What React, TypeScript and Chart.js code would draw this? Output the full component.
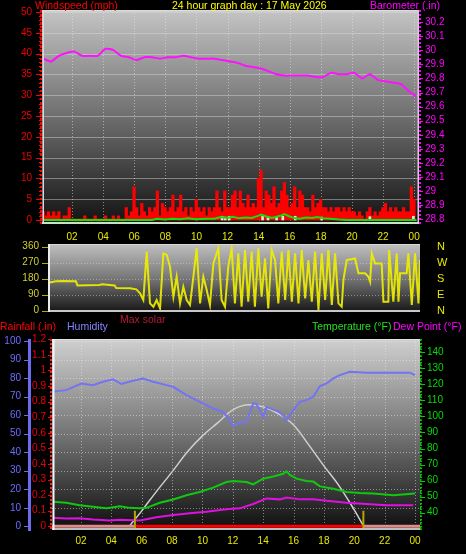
import React, { useEffect, useRef } from 'react';
import { Chart, registerables } from 'chart.js';

Chart.register(...registerables);

const FONT = 'Liberation Sans, Arial, Helvetica, sans-serif';

// ---------- time axis ----------
const hourTicks = [2, 4, 6, 8, 10, 12, 14, 16, 18, 20, 22, 24];
const hourLabels = ['02', '04', '06', '08', '10', '12', '14', '16', '18', '20', '22', '00'];

// ---------- panel 1 : wind + barometer ----------
const windTicks = [0, 5, 10, 15, 20, 25, 30, 35, 40, 45, 50];
const baroTicks = [28.8, 28.9, 29.0, 29.1, 29.2, 29.3, 29.4, 29.5, 29.6, 29.7, 29.8, 29.9, 30.0, 30.1, 30.2];
const baroLabels = ['28.8', '28.9', '29', '29.1', '29.2', '29.3', '29.4', '29.5', '29.6', '29.7', '29.8', '29.9', '30', '30.1', '30.2'];
const panel1Shift = 0.15;
const baroStepHours = 0.5;
const baroValues = [
  29.94, 29.92, 29.96, 29.98, 29.99, 29.96, 29.96, 29.96, 30.01, 30.0,
  29.96, 29.95, 29.93, 29.95, 29.95, 29.94, 29.95, 29.95, 29.96, 29.95,
  29.94, 29.94, 29.94, 29.93, 29.92, 29.91, 29.89, 29.88, 29.87, 29.85,
  29.83, 29.82, 29.82, 29.82, 29.82, 29.81, 29.81, 29.84, 29.83, 29.83,
  29.84, 29.8, 29.83, 29.79, 29.78, 29.77, 29.76, 29.71, 29.67,
];
const windStepHours = 1 / 6;
const windGust = [
  2, 1, 2, 1, 2, 1, 2, 0, 1, 1, 3, 0, 0, 0, 0, 0, 1, 0, 0, 0, 1, 0, 0, 0,
  1, 0, 0, 1, 0, 1, 0, 0, 3, 1, 2, 8, 3, 1, 4, 2, 1, 3, 2, 3, 7, 1, 4, 3,
  2, 3, 6, 2, 3, 6, 2, 3, 1, 3, 2, 5, 3, 2, 3, 1, 3, 2, 3, 7, 3, 2, 7, 3,
  3, 6, 7, 3, 7, 4, 3, 6, 3, 4, 3, 10, 12, 3, 7, 6, 4, 8, 3, 4, 7, 9, 6, 3,
  4, 8, 3, 7, 6, 3, 3, 2, 6, 3, 4, 5, 3, 3, 2, 3, 2, 3, 3, 2, 3, 2, 3, 2,
  2, 1, 2, 1, 0, 2, 3, 1, 2, 1, 2, 3, 4, 2, 3, 2, 3, 2, 2, 3, 2, 2, 8, 5,
];
const windAvgHours = [0, 7.0, 7.3, 7.8, 8.3, 8.8, 9.3, 9.8, 10.5, 11.0, 11.4, 11.8, 12.2, 12.6, 13.0, 13.4, 13.8, 14.0, 14.3, 14.7, 15.0, 15.3, 15.5, 15.8, 16.2, 16.5, 16.9, 17.3, 17.6, 18.0, 18.4, 19.0, 19.5, 24];
const windAvgValues = [0, 0, 0.3, 0.1, 0.3, 0.2, 0.4, 0.2, 0.3, 0.3, 0.7, 0.5, 0.8, 0.4, 0.6, 0.5, 1.0, 1.3, 0.9, 0.5, 0.8, 1.1, 1.4, 0.9, 0.4, 0.3, 0.6, 0.5, 0.7, 0.4, 0.3, 0.1, 0, 0];
const calmHours = [11.5, 11.7, 11.95, 14.1, 14.45, 15.0, 15.4, 16.2, 17.9, 21.0, 23.8];
const calmValues = [0.9, 0.7, 0.9, 0.9, 0.8, 0.7, 0.9, 0.9, 0.7, 0.8, 0.9];

// ---------- panel 2 : wind direction ----------
const dirTicks = [0, 90, 180, 270, 360];
const dirLabels = ['0', '90', '180', '270', '360'];
const compassLabels = ['N', 'E', 'S', 'W', 'N'];
const dirHours = [
  0.05, 0.5, 1.0, 1.8, 1.9, 2.5, 3.3, 3.5, 4.3, 4.4,
  5.3, 5.7, 5.94, 6.15, 6.37, 6.58, 6.8, 7.01, 7.23, 7.44,
  7.66, 7.87, 8.09, 8.3, 8.52, 8.73, 8.95, 9.16, 9.38, 9.59,
  9.81, 10.02, 10.24, 10.45, 10.67, 10.99, 11.2, 11.42, 11.63, 11.85,
  12.06, 12.28, 12.49, 12.71, 12.92, 13.14, 13.35, 13.57, 13.78, 14.0,
  14.21, 14.43, 14.65, 14.86, 15.08, 15.3, 15.51, 15.73, 15.94, 16.16,
  16.37, 16.59, 16.8, 17.02, 17.23, 17.45, 17.66, 17.88, 18.09, 18.31,
  18.52, 18.74, 18.95, 19.06, 19.27, 19.81, 20.03, 20.46, 20.67, 20.78,
  20.89, 21.1, 21.53, 21.64, 21.96, 22.01, 22.28, 22.5, 22.61, 22.71,
  23.14, 23.25, 23.47, 23.68, 23.9, 24.0,
];
const dirValues = [
  157, 165, 167, 165, 142, 143, 145, 148, 142, 128,
  126, 120, 98, 60, 332, 41, 22, 60, 13, 322,
  313, 248, 79, 191, 41, 135, 60, 32, 191, 351,
  41, 191, 116, 32, 266, 351, 60, 22, 248, 351,
  41, 322, 22, 341, 51, 332, 22, 351, 79, 294,
  13, 341, 285, 41, 332, 60, 341, 51, 322, 41,
  341, 69, 285, 51, 332, 4, 322, 60, 341, 32,
  322, 41, 22, 173, 285, 294, 210, 210, 191, 163,
  322, 266, 266, 51, 51, 341, 51, 322, 51, 210,
  210, 322, 32, 322, 41, 285,
];

// ---------- panel 3 : rain, humidity, temperature, dew point, solar ----------
const humTicks = [0, 10, 20, 30, 40, 50, 60, 70, 80, 90, 100];
const rainTicks = [0, 0.1, 0.2, 0.3, 0.4, 0.5, 0.6, 0.7, 0.8, 0.9, 1.0, 1.1, 1.2];
const rainLabels = ['0', '0.1', '0.2', '0.3', '0.4', '0.5', '0.6', '0.7', '0.8', '0.9', '1', '1.1', '1.2'];
const tempTicks = [40, 50, 60, 70, 80, 90, 100, 110, 120, 130, 140];
const humHours = [0.04, 1.03, 2.02, 2.79, 3.45, 4.11, 4.66, 5.43, 6.09, 6.75, 7.63, 8.07, 8.95, 9.82, 10.7, 11.36, 11.8, 12.02, 12.46, 12.9, 13.34, 13.56, 14.0, 14.22, 14.66, 15.1, 15.54, 15.98, 16.42, 16.86, 17.3, 17.74, 18.18, 18.62, 19.05, 19.71, 20.81, 21.91, 23.67, 24.0];
const humValues = [72.6, 73.5, 77.1, 76.2, 78.0, 79.3, 76.8, 78.6, 79.8, 78.0, 76.2, 75.3, 70.8, 67.2, 63.6, 61.8, 57.3, 54.0, 55.9, 56.4, 66.3, 66.0, 59.0, 64.5, 63.0, 61.8, 57.3, 62.7, 67.2, 68.1, 69.9, 75.7, 77.1, 79.8, 81.6, 83.4, 82.9, 82.9, 82.9, 81.6];
const tempHours = [0.15, 1.03, 1.91, 2.79, 3.67, 4.55, 5.21, 5.87, 6.31, 7.19, 8.07, 8.95, 9.82, 10.7, 11.58, 12.02, 12.9, 13.34, 14.0, 14.66, 15.32, 15.54, 15.76, 16.2, 16.86, 17.3, 17.74, 18.62, 19.49, 20.37, 21.25, 22.57, 24.0];
const tempValues = [46.8, 46.2, 44.7, 43.7, 42.7, 44.0, 43.0, 42.7, 43.0, 46.2, 48.2, 50.9, 52.9, 55.6, 59.1, 59.7, 59.1, 57.7, 61.2, 62.6, 64.3, 65.8, 63.5, 61.2, 59.7, 59.4, 56.4, 54.9, 52.9, 52.3, 51.9, 50.9, 51.9];
const dewHours = [0.15, 1.03, 1.91, 2.79, 3.89, 4.55, 5.87, 6.97, 8.07, 9.16, 10.26, 11.58, 12.46, 13.34, 14.22, 15.1, 15.54, 16.42, 17.3, 18.18, 19.49, 20.81, 22.13, 23.89];
const dewValues = [36.9, 36.3, 36.5, 35.7, 35.1, 35.6, 35.1, 37.2, 38.6, 39.6, 40.6, 42.1, 42.7, 45.4, 48.9, 48.3, 49.5, 48.3, 48.3, 47.5, 46.2, 45.4, 44.7, 44.7];
const solarHours = [5.2, 6, 7, 8, 9, 10, 11, 12, 13, 14, 15, 16, 17, 18, 19, 20, 20.6];
const solarValues = [0, 96, 223, 344, 471, 573, 656, 739, 771, 758, 713, 643, 516, 382, 255, 102, 0];
const sunrise = 5.55;
const sunset = 20.6;
const rainHours = [0, sunrise, sunset, 24.4];
const rainValues = [0, 0, 0, 0];

// ---------- helpers ----------
const pts = (hours: number[], values: number[], shift = 0) => hours.map((h, i) => ({ x: h + shift, y: values[i] }));
const stepPts = (values: number[], step: number, shift = 0) => values.map((v, i) => ({ x: i * step + shift, y: v }));
const fixedTicks = (values: number[]) => (scale: any) => {
  scale.ticks = values.map((v) => ({ value: v }));
};
const labelOf = (values: number[], labels: string[]) => (v: number) => {
  const i = values.findIndex((t) => Math.abs(t - v) < 1e-6);
  return i >= 0 ? labels[i] : '';
};
const fixW = (w: number) => (s: any) => {
  s.width = w;
  s.paddingTop = 0;
  s.paddingBottom = 0;
};
const fixH = (h: number) => (s: any) => {
  s.height = h;
  s.paddingLeft = 0;
  s.paddingRight = 0;
};
const tickFont = { family: FONT, size: 10 };

function deco(d: any) {
  return {
    id: 'deco',
    beforeDatasetsDraw(chart: any) {
      const { ctx, chartArea: a } = chart;
      ctx.save();
      const g = ctx.createLinearGradient(0, a.top, 0, a.bottom);
      d.bg.forEach((s: any) => g.addColorStop(s[0], s[1]));
      ctx.fillStyle = g;
      ctx.fillRect(a.left, a.top, a.right - a.left, a.bottom - a.top);
      for (const gr of d.grids) {
        const s = chart.scales[gr.id];
        ctx.strokeStyle = gr.color;
        ctx.lineWidth = gr.width;
        ctx.setLineDash(gr.dash);
        for (const v of gr.values) {
          const p = Math.round(s.getPixelForValue(v)) + 0.5;
          ctx.beginPath();
          if (gr.dir === 'v') {
            if (p < a.left || p > a.right) continue;
            ctx.moveTo(p, a.top);
            ctx.lineTo(p, a.bottom);
          } else {
            ctx.moveTo(a.left, p);
            ctx.lineTo(a.right, p);
          }
          ctx.stroke();
        }
      }
      ctx.restore();
    },
    afterDatasetsDraw(chart: any) {
      const { ctx, chartArea: a } = chart;
      ctx.save();
      ctx.setLineDash([]);
      const f = d.frame;
      const line = (x1: number, y1: number, x2: number, y2: number, c: string, w: number) => {
        ctx.strokeStyle = c;
        ctx.lineWidth = w;
        ctx.beginPath();
        ctx.moveTo(x1, y1);
        ctx.lineTo(x2, y2);
        ctx.stroke();
      };
      if (f.top) line(a.left, a.top + f.top[1] / 2, a.right, a.top + f.top[1] / 2, f.top[0], f.top[1]);
      if (f.right) line(a.right - f.right[1] / 2, a.top, a.right - f.right[1] / 2, a.bottom, f.right[0], f.right[1]);
      if (f.bottom) line(a.left, a.bottom - f.bottom[1] / 2, a.right, a.bottom - f.bottom[1] / 2, f.bottom[0], f.bottom[1]);
      if (f.left) line(a.left + f.left[1] / 2 + (f.leftInset || 0), a.top, a.left + f.left[1] / 2 + (f.leftInset || 0), a.bottom, f.left[0], f.left[1]);
      for (const ax of d.axes) {
        const s = chart.scales[ax.id];
        const left = ax.side === 'left';
        const edge = left ? s.right : s.left;
        const dir = left ? -1 : 1;
        if (ax.border) {
          ctx.setLineDash(ax.border.dash);
          const bx = edge + (dir * ax.border.width) / 2;
          line(bx, a.top, bx, a.bottom, ax.border.color, ax.border.width);
          ctx.setLineDash([]);
        }
        if (ax.minorStep) {
          for (let k = Math.ceil(s.min / ax.minorStep); k * ax.minorStep <= s.max; k++) {
            const y = Math.round(s.getPixelForValue(k * ax.minorStep)) + 0.5;
            line(edge, y, edge + dir * ax.minorLen, y, ax.color, 1);
          }
        }
        for (const v of ax.majors) {
          const y = Math.round(s.getPixelForValue(v)) + 0.5;
          line(edge, y, edge + dir * ax.majorLen, y, ax.color, 1);
        }
      }
      ctx.restore();
    },
  };
}

const hourAxis = (min: number, max: number, height: number, padding: number, show = true) => ({
  type: 'linear',
  position: 'bottom',
  min,
  max,
  offset: false,
  display: show,
  afterBuildTicks: fixedTicks(hourTicks),
  afterFit: fixH(height),
  grid: { display: false, drawTicks: false },
  border: { display: false },
  ticks: {
    callback: labelOf(hourTicks, hourLabels),
    color: '#e8e800',
    font: tickFont,
    padding,
    maxRotation: 0,
    autoSkip: false,
  },
});

const yAxis = (o: any) => ({
  type: 'linear',
  position: o.position,
  weight: o.weight || 0,
  min: o.min,
  max: o.max,
  display: o.display === undefined ? true : o.display,
  afterBuildTicks: fixedTicks(o.ticks),
  afterFit: fixW(o.width),
  grid: { display: false, drawTicks: false },
  border: { display: false },
  ticks: {
    callback: labelOf(o.ticks, o.labels),
    color: o.color,
    font: o.font || tickFont,
    padding: o.padding,
    autoSkip: false,
  },
});

const baseOptions = (padding: any, scales: any) => ({
  animation: false,
  responsive: false,
  devicePixelRatio: 1,
  events: [],
  layout: { padding },
  plugins: { legend: { display: false }, tooltip: { enabled: false } },
  scales,
});

function config1(): any {
  return {
    type: 'line',
    data: {
      datasets: [
        {
          type: 'bar', label: 'Wind gust (mph)', data: stepPts(windGust, windStepHours, panel1Shift), yAxisID: 'wind',
          backgroundColor: '#ff0000', borderWidth: 0, barThickness: 2.6, grouped: false, minBarLength: 2, order: 4,
        },
        {
          type: 'bar', label: 'Calm', data: pts(calmHours, calmValues, panel1Shift), yAxisID: 'wind',
          backgroundColor: '#d6ead6', borderWidth: 0, barThickness: 2, grouped: false, order: 3,
        },
        {
          type: 'line', label: 'Wind average (mph)', data: pts(windAvgHours, windAvgValues, panel1Shift), yAxisID: 'wind',
          borderColor: '#10e010', borderWidth: 2, pointRadius: 0, tension: 0, order: 2,
        },
        {
          type: 'line', label: 'Barometer (.in)', data: stepPts(baroValues, baroStepHours, panel1Shift), yAxisID: 'baro',
          borderColor: '#ff10ff', borderWidth: 2, pointRadius: 0, tension: 0.2, order: 1,
        },
      ],
    },
    options: baseOptions({ top: 10, left: 0, right: 0, bottom: 0 }, {
      x: hourAxis(0.064, 24.31, 20, 7),
      wind: yAxis({ position: 'left', min: -0.96, max: 50.48, ticks: windTicks, labels: windTicks.map(String), color: '#ee0000', width: 42, padding: 10 }),
      baro: yAxis({ position: 'right', min: 28.768, max: 30.285, ticks: baroTicks, labels: baroLabels, color: '#ff00ff', width: 47, padding: 6 }),
    }),
    plugins: [
      deco({
        bg: [[0, '#c4c4c4'], [0.5, '#6e6e6e'], [1, '#121212']],
        grids: [
          { id: 'x', dir: 'v', values: hourTicks, color: 'rgba(235,235,235,0.5)', dash: [1, 2], width: 1 },
          { id: 'wind', dir: 'h', values: windTicks.slice(1), color: 'rgba(220,220,220,0.45)', dash: [], width: 1 },
        ],
        frame: { top: ['#dcdcdc', 1.5], right: ['#d0d0d0', 1.5], bottom: ['#c6e2c6', 2], left: ['#d8d8d8', 1.5], leftInset: 0.5 },
        axes: [
          { id: 'wind', side: 'left', majors: windTicks, minorStep: 1, color: '#ff0000', majorLen: 6, minorLen: 3, border: { color: '#ff0000', width: 2, dash: [2, 2] } },
          { id: 'baro', side: 'right', majors: baroTicks, color: '#ff00ff', majorLen: 4, minorLen: 0, border: { color: '#ff00ff', width: 2, dash: [2, 2] } },
        ],
      }),
    ],
  };
}

function config2(): any {
  return {
    type: 'line',
    data: {
      datasets: [
        {
          label: 'Wind direction', data: pts(dirHours, dirValues), yAxisID: 'dir',
          borderColor: 'rgba(238,238,0,0.92)', borderWidth: 2, pointRadius: 0, tension: 0,
        },
      ],
    },
    options: baseOptions({ top: 4, left: 0, right: 0, bottom: 4 }, {
      x: hourAxis(0, 24, 0, 0, false),
      dir: yAxis({ position: 'left', min: -7.3, max: 375, ticks: dirTicks, labels: dirLabels, color: '#d0d030', width: 48, padding: 9 }),
      compass: yAxis({ position: 'right', min: -7.3, max: 375, ticks: dirTicks, labels: compassLabels, color: '#e8e800', width: 46, padding: 17, font: { family: FONT, size: 11 } }),
    }),
    plugins: [
      deco({
        bg: [[0, '#c0c0c0'], [0.5, '#777777'], [1, '#161616']],
        grids: [{ id: 'dir', dir: 'h', values: [90, 180, 270], color: 'rgba(225,225,225,0.45)', dash: [1, 2], width: 1 }],
        frame: { top: ['#d8d8d8', 1], bottom: ['#c8c8c8', 2], left: ['#ececec', 2] },
        axes: [{ id: 'dir', side: 'left', majors: dirTicks, color: '#b0b000', majorLen: 6, minorLen: 0 }],
      }),
    ],
  };
}

function config3(): any {
  return {
    type: 'line',
    data: {
      datasets: [
        {
          label: 'Max solar', data: pts(solarHours, solarValues), yAxisID: 'solar',
          borderColor: '#cfcfcf', borderWidth: 1.5, pointRadius: 0, tension: 0.35, order: 6,
        },
        {
          label: 'Humidity', data: pts(humHours, humValues), yAxisID: 'hum',
          borderColor: '#7474f2', borderWidth: 2, pointRadius: 0, tension: 0, order: 5,
        },
        {
          label: 'Temperature (°F)', data: pts(tempHours, tempValues), yAxisID: 'temp',
          borderColor: '#10c810', borderWidth: 2, pointRadius: 0, tension: 0, order: 4,
        },
        {
          label: 'Dew Point (°F)', data: pts(dewHours, dewValues), yAxisID: 'temp',
          borderColor: '#e010e0', borderWidth: 2, pointRadius: 0, tension: 0, order: 3,
        },
        {
          label: 'Rainfall (.in)', data: pts(rainHours, rainValues), yAxisID: 'rain',
          borderColor: '#ff0000', borderWidth: 3, pointRadius: 0, order: 2,
          segment: {
            borderColor: (c: any) => (c.p0.parsed.x >= sunrise - 0.01 && c.p1.parsed.x <= sunset + 0.01 ? '#ff0000' : '#e08a8a'),
          },
        },
        {
          label: 'Sunrise / sunset', yAxisID: 'rain', borderColor: '#b8a400', borderWidth: 2, pointRadius: 0, order: 1,
          data: [
            { x: sunrise, y: -0.03 }, { x: sunrise, y: 0.1 }, { x: (sunrise + sunset) / 2, y: null },
            { x: sunset, y: -0.03 }, { x: sunset, y: 0.1 },
          ],
        },
      ],
    },
    options: baseOptions({ top: 9, left: 0, right: 0, bottom: 0 }, {
      x: hourAxis(0.09, 24.33, 24, 5),
      hum: yAxis({ position: 'left', weight: 1, min: -2.0, max: 101.1, ticks: humTicks, labels: humTicks.map(String), color: '#6c6cff', width: 31, padding: 10 }),
      rain: yAxis({ position: 'left', weight: 0, min: -0.024, max: 1.202, ticks: rainTicks, labels: rainLabels, color: '#ee0000', width: 21, padding: 6 }),
      temp: yAxis({ position: 'right', min: 29.2, max: 148.3, ticks: tempTicks, labels: tempTicks.map(String), color: '#00dd00', width: 46, padding: 7 }),
      solar: { type: 'linear', display: false, min: -26, max: 1190 },
    }),
    plugins: [
      deco({
        bg: [[0, '#d0d0d0'], [0.5, '#747474'], [1, '#0e0e0e']],
        grids: [
          { id: 'x', dir: 'v', values: hourTicks, color: 'rgba(235,235,235,0.5)', dash: [1, 2], width: 1 },
          { id: 'hum', dir: 'h', values: humTicks.slice(1), color: 'rgba(235,235,235,0.5)', dash: [1, 2], width: 1 },
        ],
        frame: { top: ['#e0e0e0', 1], bottom: ['#bdbdbd', 2], left: ['#f4f4f4', 2], leftInset: 0.5 },
        axes: [
          { id: 'hum', side: 'left', majors: humTicks, minorStep: 2, color: '#6c6cee', majorLen: 7, minorLen: 3, border: { color: '#6c6cee', width: 3, dash: [] } },
          { id: 'rain', side: 'left', majors: rainTicks, color: '#ff0000', majorLen: 4, minorLen: 0, border: { color: '#ff2020', width: 2, dash: [2, 2] } },
          { id: 'temp', side: 'right', majors: tempTicks, minorStep: 2, color: '#00cc00', majorLen: 5, minorLen: 2, border: { color: '#00c000', width: 1.5, dash: [2, 2] } },
        ],
      }),
    ],
  };
}

const Label = ({ left, top, color, text, size = 10.5 }: any) => (
  <span
    style={{
      position: 'absolute', left, top, color, fontFamily: FONT, fontSize: size,
      lineHeight: '12px', whiteSpace: 'nowrap',
    }}
  >
    {text}
  </span>
);

export default function App() {
  const c1 = useRef<HTMLCanvasElement>(null);
  const c2 = useRef<HTMLCanvasElement>(null);
  const c3 = useRef<HTMLCanvasElement>(null);

  useEffect(() => {
    const charts = [
      new Chart(c1.current as HTMLCanvasElement, config1()),
      new Chart(c2.current as HTMLCanvasElement, config2()),
      new Chart(c3.current as HTMLCanvasElement, config3()),
    ];
    return () => charts.forEach((c) => c.destroy());
  }, []);

  return (
    <div style={{ position: 'absolute', left: 0, top: 0, width: 466, height: 554, background: '#000', overflow: 'hidden' }}>
      <canvas ref={c1} width={466} height={244} style={{ position: 'absolute', left: 0, top: 0, width: 466, height: 244 }} />
      <canvas ref={c2} width={466} height={76} style={{ position: 'absolute', left: 0, top: 240, width: 466, height: 76 }} />
      <canvas ref={c3} width={466} height={224} style={{ position: 'absolute', left: 0, top: 330, width: 466, height: 224 }} />
      <Label left={35} top={-1.5} color="#ff0000" text="Windspeed (mph)" />
      <Label left={172} top={-1.5} color="#ffff00" text="24 hour graph day : 17 May 2026" />
      <Label left={370} top={-1.5} color="#ff00ff" text="Barometer (.in)" />
      <Label left={120} top={313} color="#b81a34" text="Max solar" />
      <Label left={0} top={319.6} color="#ff0000" text="Rainfall (.in)" />
      <Label left={67} top={319.6} color="#8484ff" text="Humidity" />
      <Label left={312} top={319.6} color="#20e020" text="Temperature (°F)" />
      <Label left={393} top={319.6} color="#ff00ff" text="Dew Point (°F)" />
    </div>
  );
}
